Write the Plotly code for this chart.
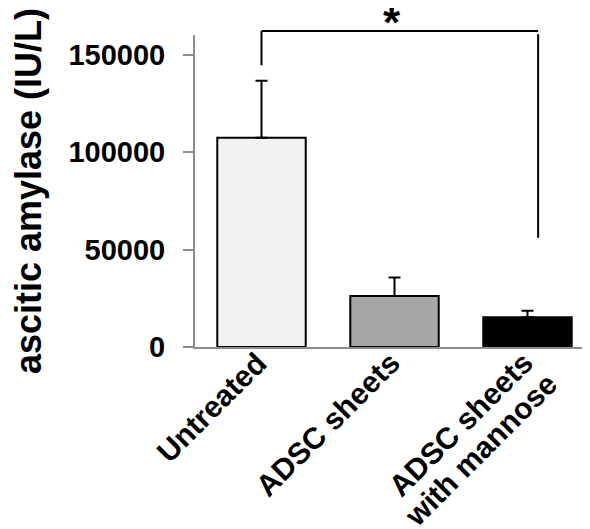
import plotly.graph_objects as go

categories = ["Untreated", "ADSC sheets", "ADSC sheets with mannose"]
label_lines = [["Untreated"], ["ADSC sheets"], ["ADSC sheets", "with mannose"]]
means = [107300, 26100, 15200]
errors_upper = [29300, 9500, 3400]
bar_colors = ["#f2f2f2", "#a6a6a6", "#000000"]

y_max = 160000
y_ticks = [0, 50000, 100000, 150000]

# significance bracket (data units)
bracket_y = 162000
bracket_left_x, bracket_left_bottom = 0.0, 144500
bracket_right_x, bracket_right_bottom = 2.08, 56000
star_x, star_base = 0.98, 152600
star_text = "*"

font_family = "Liberation Sans, Arial, sans-serif"
label_font = dict(family=font_family, size=30, color="black", weight="bold")

fig = go.Figure()
fig.add_trace(go.Bar(
    x=list(range(len(categories))),
    y=means,
    marker=dict(color=bar_colors, line=dict(color="black", width=2)),
    error_y=dict(type="data", array=errors_upper, arrayminus=[0] * len(means),
                 symmetric=False, color="black", thickness=2, width=6),
    width=0.665,
    hovertext=categories,
    showlegend=False,
))

def py(v):
    return v / y_max

line_style = dict(color="black", width=2)
fig.add_shape(type="line", xref="x", yref="paper", x0=bracket_left_x, x1=bracket_right_x,
              y0=py(bracket_y), y1=py(bracket_y), line=line_style)
fig.add_shape(type="line", xref="x", yref="paper", x0=bracket_left_x, x1=bracket_left_x,
              y0=py(bracket_y), y1=py(bracket_left_bottom), line=line_style)
fig.add_shape(type="line", xref="x", yref="paper", x0=bracket_right_x, x1=bracket_right_x,
              y0=py(bracket_y) - 0.01, y1=py(bracket_right_bottom), line=line_style)
fig.add_annotation(x=star_x, y=py(star_base), xref="x", yref="paper", text=star_text,
                   showarrow=False, yanchor="bottom",
                   font=dict(family=font_family, size=44, color="black", weight="bold"))

# rotated category labels (one right-aligned annotation per text line)
line_dx, line_dy = 25, 20  # px offset from one text line to the next
for i, lines in enumerate(label_lines):
    for k, txt in enumerate(lines):
        fig.add_annotation(x=i, y=0, xref="x", yref="paper", text=txt, showarrow=False,
                           textangle=-45, xanchor="right", yanchor="top",
                           xshift=14 + k * line_dx, yshift=3 - k * line_dy,
                           font=label_font)

# page body has an 8px margin: shrink the figure so the plot lands where the reference has it
fig.update_layout(
    width=582, height=521,
    margin=dict(l=187, r=0, t=27, b=182, autoexpand=False),
    plot_bgcolor="white", paper_bgcolor="white",
    font=dict(family=font_family, color="black"),
)
fig.update_xaxes(
    tickmode="array", tickvals=list(range(len(categories))), ticktext=categories,
    showticklabels=False,
    range=[-0.5, 2.47], showline=True, linecolor="#8c8c8c", linewidth=2,
    ticks="", showgrid=False, zeroline=False, automargin=False,
)
fig.update_yaxes(
    range=[0, y_max], tickvals=y_ticks, ticktext=[str(v) for v in y_ticks],
    showline=True, linecolor="#8c8c8c", linewidth=2, ticks="outside", ticklen=10,
    tickcolor="#8c8c8c", tickwidth=2, showgrid=False, zeroline=False, automargin=False,
    ticklabelstandoff=12,
    tickfont=dict(family=font_family, size=29, color="black", weight="bold"),
    title=dict(text="ascitic amylase (IU/L)", standoff=18,
               font=dict(family=font_family, size=36, color="black", weight="bold")),
)

fig.write_html("out.html")
